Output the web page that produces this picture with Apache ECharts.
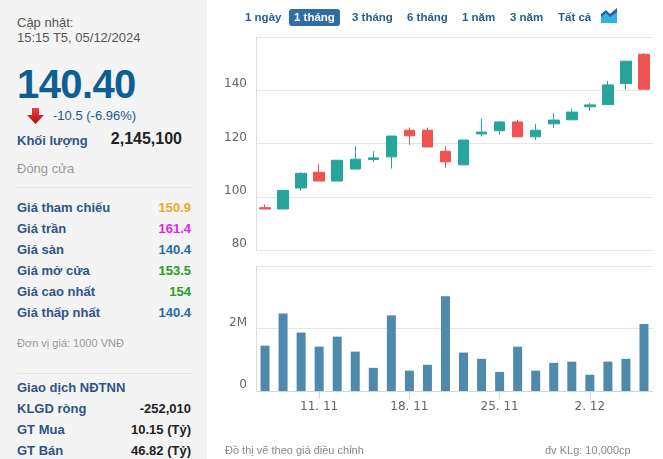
<!DOCTYPE html>
<html>
<head>
<meta charset="utf-8">
<title>Biểu đồ giá</title>
<script src="https://cdn.jsdelivr.net/npm/echarts/dist/echarts.min.js"></script>
<style>
  html, body { margin: 0; padding: 0; background: #fff; }
  body { width: 663px; height: 459px; position: relative; overflow: hidden;
         font-family: "Liberation Sans", Arial, sans-serif; }
  #main { position: absolute; left: 0; top: 0; width: 663px; height: 459px; }
  #panel { position: absolute; left: 0; top: 0; width: 207px; height: 459px; background: #f4f4f4; }
  .t { position: absolute; white-space: nowrap; }
  .lbl { font-size: 13px; line-height: 16px; font-weight: bold; color: #2d5587; }
  .val { font-size: 13px; line-height: 16px; font-weight: bold; right: 16px; }
  .hr { position: absolute; left: 17px; width: 176px; height: 1px; background: #e4e4e4; }
  .btn { position: absolute; top: 9px; height: 17px; line-height: 17px; font-size: 11.5px; font-weight: bold;
         color: #2b5c8f; white-space: nowrap; }
  .btn.on { background: #2f6ea5; color: #fff; border-radius: 3px; padding: 0 5px; }
  .foot { position: absolute; top: 443px; font-size: 11px; line-height: 14px; color: #888; white-space: nowrap; }
</style>
</head>
<body>
<div id="main"></div>
<div id="panel"></div>
<div id="btns"></div>
<div class="foot" style="left:225px;">Đồ thị vẽ theo giá điều chỉnh</div>
<div class="foot" style="left:545px;">đv KLg: 10,000cp</div>

<script type="text/javascript">
// ngày giao dịch
var dates = ['2024-11-06', '2024-11-07', '2024-11-08', '2024-11-11', '2024-11-12', '2024-11-13',
             '2024-11-14', '2024-11-15', '2024-11-18', '2024-11-19', '2024-11-20', '2024-11-21',
             '2024-11-22', '2024-11-25', '2024-11-26', '2024-11-27', '2024-11-28', '2024-11-29',
             '2024-12-02', '2024-12-03', '2024-12-04', '2024-12-05'];
// giá mở / đóng / thấp / cao
var openP  = [95.9, 95.4, 103.3, 109.2, 105.9, 110.4, 114.0, 115.0, 125.0, 125.0, 117.1, 112.0, 123.6, 124.8, 128.1, 122.5, 127.4, 128.9, 133.8, 134.6, 142.5, 153.5];
var closeP = [95.4, 102.4, 108.8, 105.9, 113.7, 114.1, 114.6, 122.8, 122.9, 118.7, 113.1, 121.3, 124.3, 128.1, 122.5, 125.0, 128.8, 131.8, 134.5, 142.0, 150.9, 140.4];
var lowP   = [95.4, 95.4, 102.4, 105.9, 105.9, 110.4, 113.1, 110.6, 119.5, 118.7, 110.8, 112.0, 122.6, 123.3, 122.5, 121.4, 125.9, 128.9, 132.3, 134.6, 140.3, 140.4];
var highP  = [97.1, 102.4, 109.2, 112.2, 113.7, 119.1, 117.1, 122.8, 126.0, 126.0, 119.0, 121.3, 129.2, 128.4, 128.8, 127.3, 131.4, 133.0, 135.2, 143.5, 151.1, 154.0];
// khối lượng
var volume = [1450000, 2480000, 1870000, 1420000, 1740000, 1260000, 740000, 2420000, 650000, 840000, 3030000,
              1230000, 1030000, 610000, 1420000, 650000, 900000, 940000, 520000, 940000, 1030000, 2145100];
// nhãn trục
var priceTicks = [80, 100, 120, 140];
var volTickLabels = { 0: '0', 2000000: '2M' };

// thông tin bên trái
var rangeButtons = ['1 ngày', '1 tháng', '3 tháng', '6 tháng', '1 năm', '3 năm', 'Tất cả'];
var btnLeft = [245, 289, 352, 407, 462, 510, 558];
var infoLabels = ['Giá tham chiếu', 'Giá trần', 'Giá sàn', 'Giá mở cửa', 'Giá cao nhất', 'Giá thấp nhất'];
var infoValues = ['150.9', '161.4', '140.4', '153.5', '154', '140.4'];
var infoColors = ['#f5a623', '#e61ee6', '#1f6fa8', '#22a022', '#22a022', '#1f6fa8'];
var foreignLabels = ['KLGD ròng', 'GT Mua', 'GT Bán'];
var foreignValues = ['-252,010', '10.15 (Tỷ)', '46.82 (Tỷ)'];

// --- dựng panel bên trái ---
var html = '';
html += '<div class="t" style="left:17px;top:15px;font-size:13px;line-height:16px;color:#555;">Cập nhật:</div>';
html += '<div class="t" style="left:17px;top:30px;font-size:13px;line-height:16px;color:#555;">15:15 T5, 05/12/2024</div>';
html += '<div class="t" style="left:17px;top:64px;font-size:40px;line-height:40px;font-weight:bold;color:#0c5e93;letter-spacing:-0.6px;">140.40</div>';
html += '<svg style="position:absolute;left:27px;top:108px;" width="17" height="16" viewBox="0 0 17 16">' +
        '<defs><linearGradient id="ag" x1="0" y1="0" x2="0" y2="1"><stop offset="0" stop-color="#f04040"/><stop offset="1" stop-color="#b01010"/></linearGradient></defs>' +
        '<polygon points="5,0 12,0 12,7 17,7 8.5,16 0,7 5,7" fill="url(#ag)"/></svg>';
html += '<div class="t" style="left:53px;top:108px;font-size:13px;line-height:16px;color:#1e5a8c;">-10.5 (-6.96%)</div>';
html += '<div class="t lbl" style="left:17px;top:133px;">Khối lượng</div>';
html += '<div class="t" style="right:25px;top:129px;font-size:16px;line-height:20px;font-weight:bold;color:#222;">2,145,100</div>';
html += '<div class="t" style="left:17px;top:161px;font-size:13px;line-height:16px;color:#999;">Đóng cửa</div>';
html += '<div class="hr" style="top:187px;"></div>';
for (var i = 0; i < infoLabels.length; i++) {
  var yy = 200 + i * 21;
  html += '<div class="t lbl" style="left:17px;top:' + yy + 'px;">' + infoLabels[i] + '</div>';
  html += '<div class="t val" style="top:' + yy + 'px;color:' + infoColors[i] + ';">' + infoValues[i] + '</div>';
}
html += '<div class="t" style="left:17px;top:336px;font-size:11px;line-height:14px;color:#999;">Đơn vị giá: 1000 VNĐ</div>';
html += '<div class="hr" style="top:373px;"></div>';
html += '<div class="t lbl" style="left:17px;top:380px;">Giao dịch NĐTNN</div>';
for (var i = 0; i < foreignLabels.length; i++) {
  var yy = 401 + i * 21;
  html += '<div class="t lbl" style="left:17px;top:' + yy + 'px;">' + foreignLabels[i] + '</div>';
  html += '<div class="t val" style="top:' + yy + 'px;color:#222;">' + foreignValues[i] + '</div>';
}
document.getElementById('panel').innerHTML = html;

var bh = '';
for (var i = 0; i < rangeButtons.length; i++) {
  var on = rangeButtons[i] == '1 tháng';
  bh += '<div class="btn' + (on ? ' on' : '') + '" style="left:' + btnLeft[i] + 'px;">' + rangeButtons[i] + '</div>';
}
bh += '<svg style="position:absolute;left:601px;top:8px;" width="16" height="15" viewBox="0 0 16 15">' +
      '<polygon points="0,6 5,2 9,6 16,0 16,15 0,15" fill="#1f5fa8"/>' +
      '<polygon points="0,9 5,5 9,9 16,4 16,15 0,15" fill="#34b3e0"/></svg>';
document.getElementById('btns').innerHTML = bh;

// --- biểu đồ ---
var candleData = [];
for (var i = 0; i < dates.length; i++) {
  candleData.push([openP[i], closeP[i], lowP[i], highP[i]]);
}
function isMonday(idx) {
  return new Date(dates[idx] + 'T00:00:00').getDay() === 1;
}
function fmtDate(v) {
  var p = v.split('-');
  return parseInt(p[2], 10) + '. ' + parseInt(p[1], 10);
}

var myChart = echarts.init(document.getElementById('main'));
var option = {
  animation: false,
  grid: [
    { left: 256, top: 37, right: 10, height: 213 },
    { left: 256, top: 266, right: 10, height: 125 }
  ],
  xAxis: [
    {
      type: 'category', gridIndex: 0, data: dates, boundaryGap: true,
      axisLine: { show: true, lineStyle: { color: '#e6e6e6' } },
      axisTick: { show: false }, axisLabel: { show: false }, splitLine: { show: false }
    },
    {
      type: 'category', gridIndex: 1, data: dates, boundaryGap: true,
      axisLine: { show: true, lineStyle: { color: '#ccd6eb' } },
      axisTick: { show: true, alignWithLabel: true, length: 8, lineStyle: { color: '#ccd6eb' },
                  interval: function (idx) { return isMonday(idx); } },
      axisLabel: { interval: function (idx) { return isMonday(idx); }, formatter: fmtDate,
                   color: '#666', fontSize: 12, margin: 10, fontFamily: 'DejaVu Sans' }
    }
  ],
  yAxis: [
    {
      type: 'value', gridIndex: 0, min: 80, max: 160, interval: 20,
      axisLine: { show: true, lineStyle: { color: '#dddddd' } },
      axisTick: { show: false },
      splitLine: { lineStyle: { color: '#e6e6e6' } },
      axisLabel: { color: '#666', fontSize: 12, margin: 9, fontFamily: 'DejaVu Sans',
                   verticalAlign: 'bottom', lineHeight: 12,
                   formatter: function (v) { return priceTicks.indexOf(v) >= 0 ? String(v) : ''; } }
    },
    {
      type: 'value', gridIndex: 1, min: 0, max: 4000000, interval: 2000000,
      axisLine: { show: true, lineStyle: { color: '#dddddd' } },
      axisTick: { show: false },
      splitLine: { lineStyle: { color: '#e6e6e6' } },
      axisLabel: { color: '#666', fontSize: 12, margin: 9, fontFamily: 'DejaVu Sans',
                   verticalAlign: 'bottom', lineHeight: 12,
                   formatter: function (v) { return volTickLabels[v] !== undefined ? volTickLabels[v] : ''; } }
    }
  ],
  series: [
    {
      type: 'candlestick', xAxisIndex: 0, yAxisIndex: 0, data: candleData, barWidth: 11,
      itemStyle: { color: '#26a69a', color0: '#ef5350', borderColor: '#26a69a', borderColor0: '#ef5350', borderWidth: 1 }
    },
    {
      type: 'bar', xAxisIndex: 1, yAxisIndex: 1, data: volume, barWidth: 9,
      itemStyle: { color: '#4e8aab' }
    }
  ]
};
myChart.setOption(option);
</script>
</body>
</html>
